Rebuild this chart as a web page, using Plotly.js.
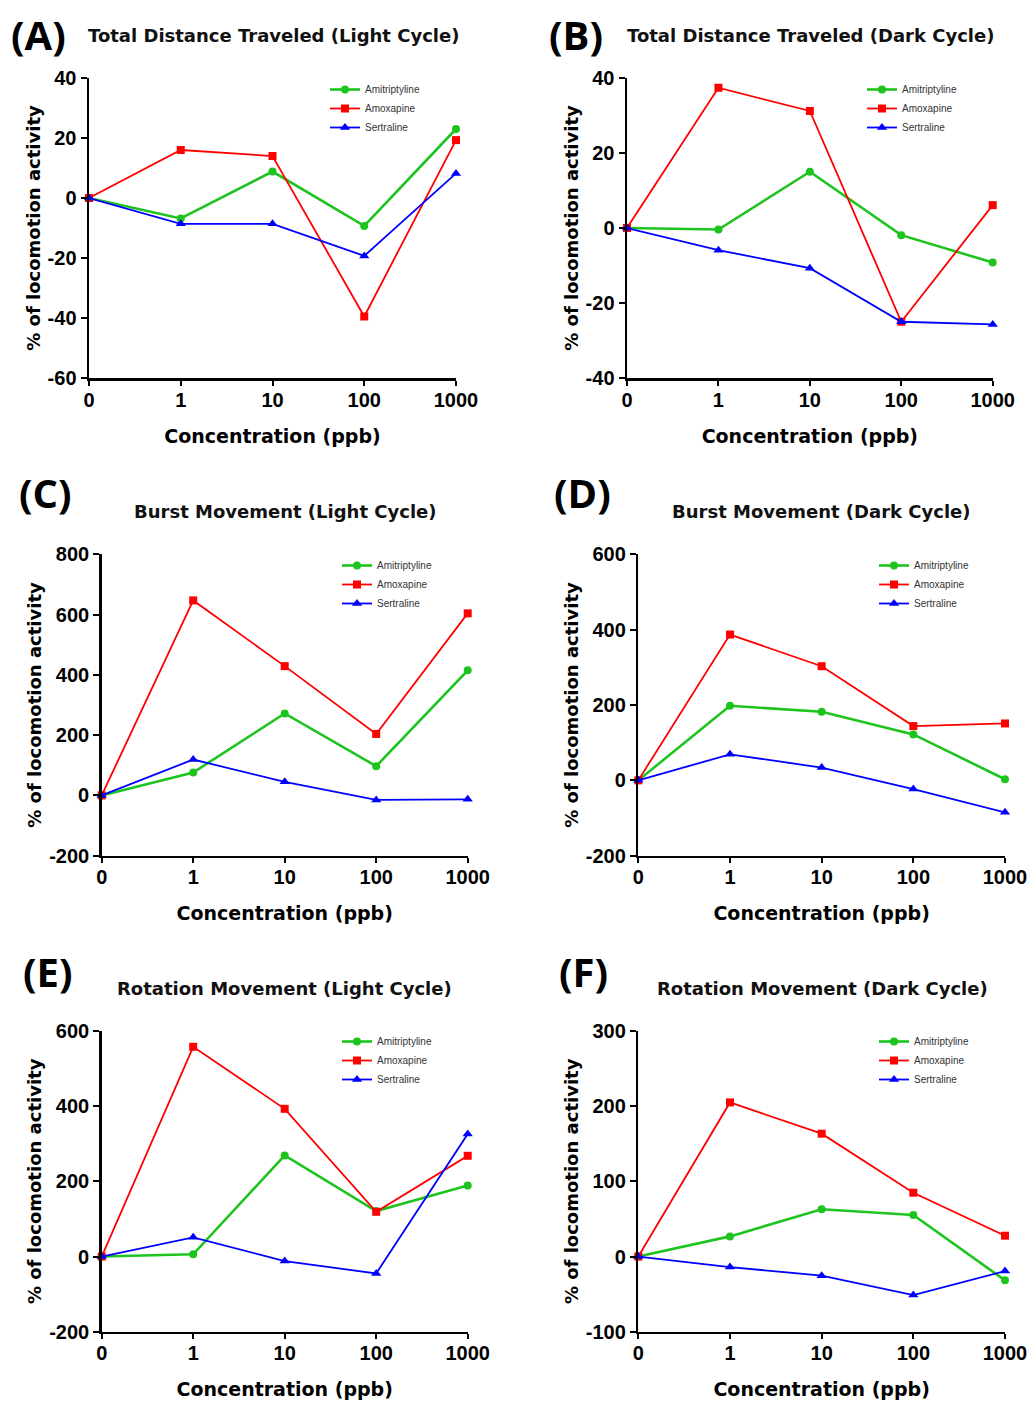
<!DOCTYPE html>
<html>
<head>
<meta charset="utf-8">
<script src="https://cdn.plot.ly/plotly-3.0.1.min.js"></script>
<style>html,body{margin:0;padding:0;background:#fff;}#chart{width:1029px;height:1401px;}</style>
</head>
<body>
<div id="chart"></div>
<script>
// ---- Data ----
const concentrations = ['0', '1', '10', '100', '1000'];
const seriesNames = ['Amitriptyline', 'Amoxapine', 'Sertraline'];

const panelTitles = [
  'Total Distance Traveled (Light Cycle)',
  'Total Distance Traveled (Dark Cycle)',
  'Burst Movement (Light Cycle)',
  'Burst Movement (Dark Cycle)',
  'Rotation Movement (Light Cycle)',
  'Rotation Movement (Dark Cycle)'
];
const panelLetters = ['(A)', '(B)', '(C)', '(D)', '(E)', '(F)'];

// Panel A: Total distance, light
const amitriptylineA = [0, -6.8, 8.8, -9.3, 23];
const amoxapineA     = [0, 16, 14, -39.5, 19.3];
const sertralineA    = [0, -8.6, -8.6, -19.3, 8.2];
// Panel B: Total distance, dark
const amitriptylineB = [0, -0.4, 15, -1.9, -9.2];
const amoxapineB     = [0, 37.4, 31.2, -25, 6.1];
const sertralineB    = [0, -5.9, -10.7, -25, -25.7];
// Panel C: Burst, light
const amitriptylineC = [0, 76, 272, 97, 415];
const amoxapineC     = [0, 647, 429, 204, 604];
const sertralineC    = [0, 119, 45, -15, -13];
// Panel D: Burst, dark
const amitriptylineD = [0, 198, 182, 122, 3];
const amoxapineD     = [0, 387, 303, 144, 151];
const sertralineD    = [0, 69, 34, -23, -85];
// Panel E: Rotation, light
const amitriptylineE = [0, 6, 269, 121, 189];
const amoxapineE     = [0, 558, 393, 119, 268];
const sertralineE    = [0, 51, -12, -45, 326];
// Panel F: Rotation, dark
const amitriptylineF = [0, 26.8, 62.8, 55.2, -31.7];
const amoxapineF     = [0, 205, 163.4, 84.9, 27.7];
const sertralineF    = [0, -14, -25.5, -51.2, -19.3];

// y-axis tick values per panel
const yTicksA = [-60, -40, -20, 0, 20, 40];
const yTicksB = [-40, -20, 0, 20, 40];
const yTicksC = [-200, 0, 200, 400, 600, 800];
const yTicksD = [-200, 0, 200, 400, 600];
const yTicksE = [-200, 0, 200, 400, 600];
const yTicksF = [-100, 0, 100, 200, 300];

const panelData = [
  [amitriptylineA, amoxapineA, sertralineA],
  [amitriptylineB, amoxapineB, sertralineB],
  [amitriptylineC, amoxapineC, sertralineC],
  [amitriptylineD, amoxapineD, sertralineD],
  [amitriptylineE, amoxapineE, sertralineE],
  [amitriptylineF, amoxapineF, sertralineF]
];
const panelYTicks = [yTicksA, yTicksB, yTicksC, yTicksD, yTicksE, yTicksF];

// ---- Layout (pixel geometry) ----
const W = 1029, H = 1401;
const plotBoxes = [ // [x0, x1, yTop, yBottom] in px
  [89, 456, 78, 378],
  [627, 992.7, 78, 378],
  [101.7, 467.7, 554.3, 855.7],
  [638.3, 1005, 554.3, 855.7],
  [101.7, 467.7, 1031, 1331.7],
  [638.3, 1005, 1031, 1331.7]
];
const titlePos = [[273, 35], [810, 35], [285, 512], [821, 512], [284, 988], [822, 988]];
const letterPos = [[38, 34], [576, 34], [45, 493], [582, 493], [48, 971], [583, 971]];
const legendPos = [[325, 75], [862, 75], [337, 551], [874, 551], [337, 1027], [874, 1027]];

const colors = ['#1ec41e', '#ff0000', '#0000ff'];
const symbols = ['circle', 'square', 'triangle-up'];
const xIdx = concentrations.map((c, i) => i);

const TICKFONT = 'Liberation Sans, Arial, sans-serif';
const TITLEFONT = 'DejaVu Sans, sans-serif';
const traces = [];
const layout = {
  width: W, height: H,
  margin: {l: 0, r: 0, t: 0, b: 0},
  paper_bgcolor: '#ffffff', plot_bgcolor: '#ffffff',
  font: {family: TICKFONT, color: '#000'},
  annotations: [],
  showlegend: true
};

panelData.forEach((series, p) => {
  const n = p + 1;
  const xaName = 'xaxis' + (n === 1 ? '' : n);
  const yaName = 'yaxis' + (n === 1 ? '' : n);
  const xRef = 'x' + (n === 1 ? '' : n);
  const yRef = 'y' + (n === 1 ? '' : n);
  const legName = 'legend' + (n === 1 ? '' : n);
  const box = plotBoxes[p];
  const yt = panelYTicks[p];

  series.forEach((vals, s) => {
    traces.push({
      type: 'scatter', mode: 'lines+markers',
      x: xIdx, y: vals,
      name: seriesNames[s],
      xaxis: xRef, yaxis: yRef,
      legend: legName,
      cliponaxis: false,
      line: {color: colors[s], width: s === 0 ? 2.6 : 1.8},
      marker: {color: colors[s], symbol: symbols[s], size: s === 2 ? 9 : 8}
    });
  });

  layout[xaName] = {
    domain: [box[0] / W, box[1] / W],
    anchor: yRef,
    range: [0, 4],
    tickvals: xIdx, ticktext: concentrations,
    showgrid: false, zeroline: false,
    showline: true, linecolor: '#000', linewidth: 2.5,
    ticks: 'outside', ticklen: 5, tickwidth: 2, tickcolor: '#000',
    ticklabelstandoff: -3,
    tickfont: {size: 20, family: TICKFONT, weight: 'bold', color: '#000'},
    title: {text: 'Concentration (ppb)', font: {size: 19, family: TITLEFONT, weight: 'bold', color: '#000'}, standoff: 20},
    fixedrange: true
  };
  layout[yaName] = {
    domain: [1 - box[3] / H, 1 - box[2] / H],
    anchor: xRef,
    range: [yt[0], yt[yt.length - 1]],
    tickvals: yt, ticktext: yt.map(v => String(v)),
    showgrid: false, zeroline: false,
    showline: true, linecolor: '#000', linewidth: 2.5,
    ticks: 'outside', ticklen: 6, tickwidth: 2, tickcolor: '#000',
    tickfont: {size: 20, family: TICKFONT, weight: 'bold', color: '#000'},
    title: {text: '% of locomotion activity', font: {size: 18, family: TITLEFONT, weight: 'bold', color: '#000'}, standoff: 3},
    fixedrange: true
  };
  layout[legName] = {
    x: legendPos[p][0] / W, y: 1 - legendPos[p][1] / H,
    xanchor: 'left', yanchor: 'top',
    bgcolor: 'rgba(0,0,0,0)',
    font: {size: 10, family: TICKFONT, color: '#333'},
    itemwidth: 30
  };
  layout.annotations.push({
    text: panelTitles[p], xref: 'paper', yref: 'paper',
    x: titlePos[p][0] / W, y: 1 - titlePos[p][1] / H,
    xanchor: 'center', yanchor: 'middle', showarrow: false,
    font: {size: 18, family: TITLEFONT, weight: 'bold', color: '#111'}
  });
  layout.annotations.push({
    text: panelLetters[p], xref: 'paper', yref: 'paper',
    x: letterPos[p][0] / W, y: 1 - letterPos[p][1] / H,
    xanchor: 'center', yanchor: 'middle', showarrow: false,
    font: {size: 40, family: 'Open Sans, sans-serif', weight: 'bold', color: '#000'}
  });
});

Plotly.newPlot('chart', traces, layout, {staticPlot: true, displayModeBar: false});
</script>
</body>
</html>
